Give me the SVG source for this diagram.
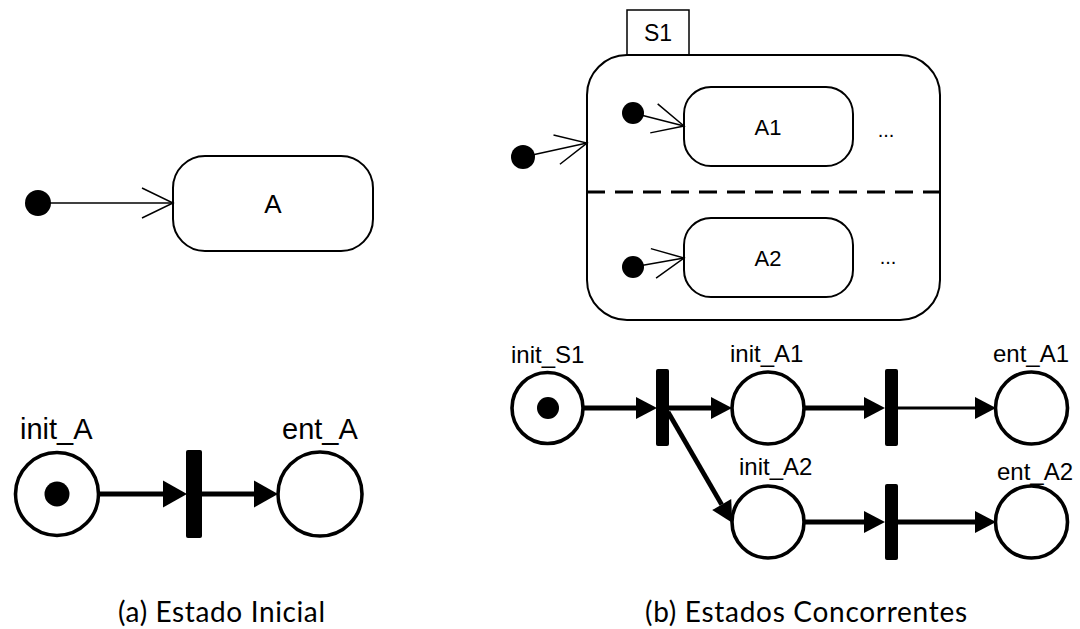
<svg xmlns="http://www.w3.org/2000/svg" width="1080" height="629" viewBox="0 0 1080 629">
  <style>
    .lbl { font-family: "Liberation Sans", Arial, sans-serif; fill: #000; }
    .cap { font-family: Lato, "Open Sans", sans-serif; font-size: 28px; fill: #000; }
    .state { fill: #fff; stroke: #000; stroke-width: 2; }
    .init { fill: #000; stroke: none; }
    .uml { fill: none; stroke: #000; stroke-width: 1.5; }
    .place { fill: #fff; stroke: #000; stroke-width: 3.6; }
    .bar { fill: #000; stroke: none; }
    .arc { fill: none; stroke: #000; stroke-width: 4.8; }
    .arcThin { fill: none; stroke: #000; stroke-width: 3; }
  </style>
  <defs>
    <!-- open chevron for statechart transitions -->
    <marker id="open" markerUnits="userSpaceOnUse" markerWidth="40" markerHeight="40" viewBox="-34 -20 40 40" refX="0" refY="0" orient="auto" overflow="visible">
      <path d="M-31,-15 L0,0 L-31,15" fill="none" stroke="#000" stroke-width="1.5"/>
    </marker>
    <!-- filled arrowheads for Petri net arcs (line ends at the base) -->
    <marker id="tri" markerUnits="userSpaceOnUse" markerWidth="30" markerHeight="30" viewBox="-2 -15 30 30" refX="0" refY="0" orient="auto" overflow="visible">
      <path d="M21,0 L0,-11 L0,11 Z" fill="#000"/>
    </marker>
    <marker id="triL" markerUnits="userSpaceOnUse" markerWidth="32" markerHeight="32" viewBox="-2 -16 32 32" refX="0" refY="0" orient="auto" overflow="visible">
      <path d="M24,0 L0,-13.5 L0,13.5 Z" fill="#000"/>
    </marker>
  </defs>

  <rect width="1080" height="629" fill="#fff"/>

  <!-- (a) statechart -->
  <g id="a-initial"><circle class="init" cx="38" cy="203" r="13"/></g>
  <g id="a-state-A">
    <rect class="state" x="173" y="156" width="200" height="95" rx="32"/>
    <text class="lbl" x="273" y="213" font-size="26" text-anchor="middle">A</text>
  </g>

  <!-- (a) Petri net -->
  <g id="a-init_A">
    <circle class="place" cx="57" cy="494" r="41.5" stroke-width="4"/>
    <circle class="init" cx="57" cy="494" r="12.5"/>
    <text class="lbl" x="20" y="439" font-size="29">init_A</text>
  </g>
  <g id="a-t1"><rect class="bar" x="186" y="450" width="16" height="88" rx="2"/></g>
  <g id="a-ent_A">
    <circle class="place" cx="320" cy="494" r="42" stroke-width="4"/>
    <text class="lbl" x="282" y="439" font-size="29">ent_A</text>
  </g>

  <!-- (b) statechart -->
  <g id="b-S1">
    <rect x="627" y="10" width="62" height="45" fill="#fff" stroke="#000" stroke-width="1.5"/>
    <text class="lbl" x="658" y="41" font-size="23" text-anchor="middle">S1</text>
    <rect class="state" x="587" y="55" width="353" height="265" rx="40"/>
    <line x1="587" y1="192" x2="940" y2="192" stroke="#000" stroke-width="3" stroke-dasharray="18 10"/>
  </g>
  <g id="b-initial"><circle class="init" cx="523" cy="157" r="12"/></g>
  <g id="b-initial-1"><circle class="init" cx="633" cy="113" r="11"/></g>
  <g id="b-initial-2"><circle class="init" cx="633" cy="267" r="11"/></g>
  <g id="b-state-A1">
    <rect class="state" x="684" y="87" width="169" height="79" rx="27"/>
    <text class="lbl" x="768" y="135" font-size="22" text-anchor="middle">A1</text>
    <text class="lbl" x="886" y="137" font-size="20" text-anchor="middle">...</text>
  </g>
  <g id="b-state-A2">
    <rect class="state" x="684" y="218" width="169" height="79" rx="27"/>
    <text class="lbl" x="768" y="266" font-size="22" text-anchor="middle">A2</text>
    <text class="lbl" x="888" y="264" font-size="20" text-anchor="middle">...</text>
  </g>

  <!-- (b) Petri net -->
  <g id="b-init_S1">
    <circle class="place" cx="547.5" cy="408" r="35.5"/>
    <circle class="init" cx="548" cy="408" r="11"/>
    <text class="lbl" x="511" y="363" font-size="24">init_S1</text>
  </g>
  <g id="b-t1"><rect class="bar" x="656" y="369" width="13" height="77" rx="2"/></g>
  <g id="b-init_A1">
    <circle class="place" cx="768" cy="408" r="36"/>
    <text class="lbl" x="730" y="362" font-size="24">init_A1</text>
  </g>
  <g id="b-t2"><rect class="bar" x="885" y="369" width="13" height="77" rx="2"/></g>
  <g id="b-ent_A1">
    <circle class="place" cx="1031.5" cy="408" r="36"/>
    <text class="lbl" x="993" y="362" font-size="24">ent_A1</text>
  </g>
  <g id="b-init_A2">
    <circle class="place" cx="768" cy="522" r="36"/>
    <text class="lbl" x="739" y="475" font-size="24">init_A2</text>
  </g>
  <g id="b-t3"><rect class="bar" x="885" y="484" width="13" height="76" rx="2"/></g>
  <g id="b-ent_A2">
    <circle class="place" cx="1031.5" cy="522" r="36"/>
    <text class="lbl" x="997" y="480" font-size="24">ent_A2</text>
  </g>

  <!-- connectors -->
  <g id="connectors">
    <line class="uml" x1="38" y1="203" x2="173" y2="203" marker-end="url(#open)"/>
    <line class="uml" x1="523" y1="157" x2="587" y2="143" marker-end="url(#open)"/>
    <line class="uml" x1="633" y1="113" x2="684" y2="126" marker-end="url(#open)"/>
    <line class="uml" x1="633" y1="267" x2="684" y2="258" marker-end="url(#open)"/>

    <line class="arc" x1="99" y1="494" x2="163" y2="494" stroke-width="5.5" marker-end="url(#triL)"/>
    <line class="arc" x1="202" y1="494" x2="254" y2="494" stroke-width="5.5" marker-end="url(#triL)"/>

    <line class="arc" x1="583" y1="408" x2="636" y2="408" marker-end="url(#tri)"/>
    <line class="arc" x1="669" y1="408" x2="711" y2="408" marker-end="url(#tri)"/>
    <line class="arc" x1="668" y1="412" x2="721.7" y2="504.6" marker-end="url(#tri)"/>
    <line class="arc" x1="804" y1="408" x2="864" y2="408" marker-end="url(#tri)"/>
    <line class="arcThin" x1="898" y1="408" x2="975" y2="408" marker-end="url(#tri)"/>
    <line class="arc" x1="804" y1="522" x2="864" y2="522" marker-end="url(#tri)"/>
    <line class="arc" x1="898" y1="522" x2="975" y2="522" marker-end="url(#tri)"/>
  </g>

  <!-- captions -->
  <text class="cap" x="118" y="622" textLength="207">(a) Estado Inicial</text>
  <text class="cap" x="645" y="622" textLength="322">(b) Estados Concorrentes</text>
</svg>
